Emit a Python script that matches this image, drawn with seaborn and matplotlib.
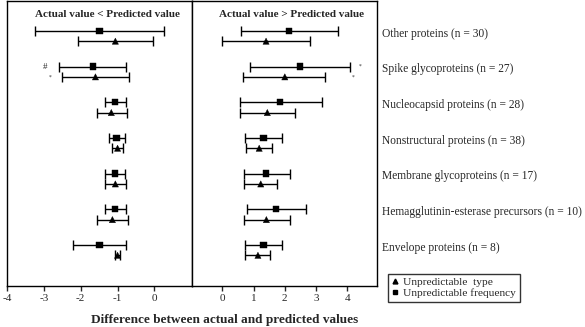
import numpy as np
import pandas as pd
import seaborn as sns
import matplotlib
matplotlib.use("Agg")
import matplotlib.pyplot as plt
from matplotlib.lines import Line2D

# categories, top to bottom
categories = ["Other proteins (n = 30)", "Spike glycoproteins (n = 27)",
              "Nucleocapsid proteins (n = 28)", "Nonstructural proteins (n = 38)",
              "Membrane glycoproteins (n = 17)",
              "Hemagglutinin-esterase precursors (n = 10)",
              "Envelope proteins (n = 8)"]

# actual value < predicted value
freq_lt = [-1.49, -1.67, -1.07, -1.03, -1.07, -1.07, -1.49]
freq_lt_lo = [-3.24, -2.60, -1.35, -1.24, -1.33, -1.35, -2.20]
freq_lt_hi = [0.27, -0.76, -0.77, -0.81, -0.79, -0.77, -0.76]
type_lt = [-1.06, -1.60, -1.17, -1.00, -1.06, -1.14, -1.00]
type_lt_lo = [-2.06, -2.50, -1.57, -1.16, -1.35, -1.55, -1.06]
type_lt_hi = [-0.05, -0.70, -0.74, -0.85, -0.76, -0.73, -0.94]

# actual value > predicted value
freq_gt = [2.14, 2.49, 1.85, 1.32, 1.41, 1.71, 1.32]
freq_gt_lo = [0.59, 0.90, 0.56, 0.72, 0.70, 0.78, 0.72]
freq_gt_hi = [3.69, 4.09, 3.19, 1.92, 2.15, 2.68, 1.90]
type_gt = [1.40, 2.00, 1.44, 1.18, 1.23, 1.41, 1.14]
type_gt_lo = [0.00, 0.67, 0.56, 0.75, 0.70, 0.70, 0.74]
type_gt_hi = [2.79, 3.30, 2.32, 1.59, 1.76, 2.15, 1.54]

left_ticks = [-4, -3, -2, -1, 0]
right_ticks = [0, 1, 2, 3, 4]

sns.set_style("ticks")
plt.rcParams["font.family"] = ["Liberation Serif", "DejaVu Serif"]
plt.rcParams["axes.linewidth"] = 1.0


def make_df(freq, flo, fhi, typ, tlo, thi):
    n = len(categories)
    rows = []
    for i in range(n):
        ypos = n - i
        rows.append(dict(cat=categories[i], kind="freq", value=freq[i], lo=flo[i], hi=fhi[i], y=ypos + 0.15))
        rows.append(dict(cat=categories[i], kind="type", value=typ[i], lo=tlo[i], hi=thi[i], y=ypos - 0.14))
    return pd.DataFrame(rows)


df_lt = make_df(freq_lt, freq_lt_lo, freq_lt_hi, type_lt, type_lt_lo, type_lt_hi)
df_gt = make_df(freq_gt, freq_gt_lo, freq_gt_hi, type_gt, type_gt_lo, type_gt_hi)

fig = plt.figure(figsize=(5.85, 3.27), dpi=100)
ax1 = fig.add_axes([7 / 585, 1 - 286 / 327, 185 / 585, 285.5 / 327])
ax2 = fig.add_axes([192 / 585, 1 - 286 / 327, 185 / 585, 285.5 / 327])

for ax, d, xlim, ticks in [(ax1, df_lt, (-4, 1.02), left_ticks), (ax2, df_gt, (-0.97, 4.95), right_ticks)]:
    ax.errorbar(d["value"], d["y"], xerr=[d["value"] - d["lo"], d["hi"] - d["value"]],
                fmt="none", ecolor="black", elinewidth=1.0, capsize=3.5, capthick=1.0)
    sns.scatterplot(data=d, x="value", y="y", style="kind", markers={"freq": "s", "type": "^"},
                    color="black", s=20, edgecolor="black", linewidth=0.3, legend=False, ax=ax, zorder=3)
    ax.set_xlim(*xlim)
    ax.set_ylim(0, 8)
    ax.set_xticks(ticks)
    ax.set_xticklabels([str(t) for t in ticks], fontsize=8)
    ax.set_yticks([])
    ax.set_xlabel("")
    ax.set_ylabel("")
    ax.tick_params(axis="x", direction="out", length=3.5, width=1.0, pad=2)
    for sp in ax.spines.values():
        sp.set_visible(True)
        sp.set_color("black")

ax1.text(-1.27, 7.6, "Actual value < Predicted value", ha="center", va="center",
         fontsize=8, fontweight="bold")
ax2.text(2.22, 7.6, "Actual value > Predicted value", ha="center", va="center",
         fontsize=8, fontweight="bold")

# significance marks on spike glycoproteins
ax1.text(-2.97, 6.15, "#", ha="center", va="center", fontsize=6.5)
ax1.text(-2.84, 5.86, "*", ha="center", va="center", fontsize=4)
ax2.text(4.41, 6.15, "*", ha="center", va="center", fontsize=4)
ax2.text(4.18, 5.86, "*", ha="center", va="center", fontsize=4)

# category labels on the right
for i, c in enumerate(categories):
    ax2.text(5.12, len(categories) - i + 0.07, c, ha="left", va="center", fontsize=8.3, clip_on=False)

handles = [Line2D([], [], marker="^", color="black", linestyle="none", markersize=3.5),
           Line2D([], [], marker="s", color="black", linestyle="none", markersize=3.5)]
leg = fig.legend(handles, ["Unpredictable  type", "Unpredictable frequency"],
                 loc="lower left", bbox_to_anchor=(388 / 585, 1 - 302 / 327), fontsize=8.2,
                 frameon=True, fancybox=False, handlelength=0.6, handletextpad=0.4,
                 borderpad=0.35, labelspacing=0.05, borderaxespad=0)
leg.get_frame().set_edgecolor("black")
leg.get_frame().set_linewidth(1.0)

fig.text(225 / 585, 1 - 320 / 327, "Difference between actual and predicted values",
         ha="center", va="center", fontsize=9.5, fontweight="bold")

fig.savefig("out.png", dpi=100)
